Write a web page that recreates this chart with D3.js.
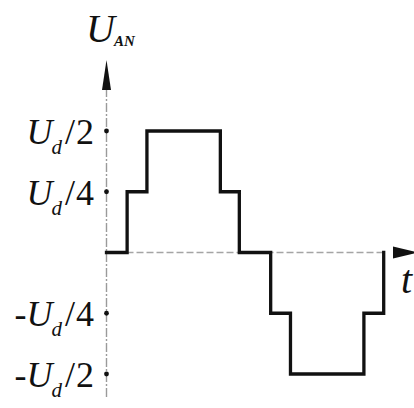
<!DOCTYPE html>
<html>
<head>
<meta charset="utf-8">
<script src="https://cdn.jsdelivr.net/npm/d3@7"></script>
<style>
  html, body { margin: 0; padding: 0; background: #fff; }
  svg { display: block; }
  text { font-family: "Liberation Serif", "Times New Roman", serif; fill: #111; }
</style>
</head>
<body>
<script>
// Step switching instants (electrical degrees) and output level (fraction of Ud)
const switchAngles = [0, 25, 49, 138, 161, 199, 223, 312, 336];
const levels       = [0, 0.25, 0.5, 0.25, 0, -0.25, -0.5, -0.25, 0];

// Y-axis tick values and their labels: [sign, fraction digit]
const tickValues = [0.5, 0.25, -0.25, -0.5];
const tickSigns  = ["", "", "-", "-"];
const tickDenoms = ["2", "4", "4", "2"];

const W = 414, H = 408;
const svg = d3.select("body").append("svg").attr("width", W).attr("height", H);

const x0 = 106.5;
const x = d3.scaleLinear().domain([0, 360]).range([x0, x0 + 297]);
const y = d3.scaleLinear().domain([-0.5, 0.5]).range([374, 131]);

// vertical axis (light dashed line) with arrow head
svg.append("line")
  .attr("x1", x0).attr("x2", x0)
  .attr("y1", 88).attr("y2", 397)
  .attr("stroke", "#9a9a9a").attr("stroke-width", 1.4)
  .attr("stroke-dasharray", "9,2,2,2");
svg.append("path")
  .attr("d", `M${x0},60 L${x0 + 4.5},90 L${x0 - 4.5},90 Z`)
  .attr("fill", "#111");

// horizontal time axis (dashed) with arrow head
svg.append("line")
  .attr("x1", x0).attr("x2", 386)
  .attr("y1", y(0)).attr("y2", y(0))
  .attr("stroke", "#a5a5a5").attr("stroke-width", 1.3)
  .attr("stroke-dasharray", "7,3");
svg.append("path")
  .attr("d", `M393,${y(0) - 6} L418,${y(0)} L393,${y(0) + 6} Z`)
  .attr("fill", "#111");

// tick dots
svg.selectAll("circle.tick")
  .data(tickValues)
  .join("circle")
  .attr("class", "tick")
  .attr("cx", x0).attr("cy", d => y(d))
  .attr("r", 2.4)
  .attr("fill", "#111");

// tick labels: ±U_d/n
const labels = svg.selectAll("text.tl")
  .data(tickValues)
  .join("text")
  .attr("class", "tl")
  .attr("x", 94)
  .attr("y", d => y(d) + 13)
  .attr("text-anchor", "end")
  .attr("font-size", 36);
labels.each(function(d, i) {
  const t = d3.select(this);
  if (tickSigns[i]) t.append("tspan").text(tickSigns[i]).attr("dx", 0);
  t.append("tspan").text("U").attr("font-style", "italic");
  t.append("tspan").text("d").attr("font-style", "italic")
    .attr("font-size", 21).attr("dx", -1).attr("dy", 10);
  t.append("tspan").text("/").attr("dx", 3).attr("dy", -10);
  t.append("tspan").text(tickDenoms[i]).attr("dx", 1);
});

// axis titles
const yTitle = svg.append("text").attr("x", 86).attr("y", 42).attr("font-size", 40);
yTitle.append("tspan").text("U").attr("font-style", "italic");
yTitle.append("tspan").text("AN").attr("font-style", "italic")
  .attr("font-size", 15).attr("font-weight", "bold").attr("dx", -1).attr("dy", 4);

svg.append("text")
  .attr("x", 401).attr("y", 293)
  .attr("font-size", 40).attr("font-style", "italic")
  .text("t");

// staircase phase voltage
const wave = switchAngles.map((a, i) => [a, levels[i]]);
svg.append("path")
  .datum(wave)
  .attr("d", d3.line()
    .x(d => x(d[0]))
    .y(d => y(d[1]))
    .curve(d3.curveStepAfter))
  .attr("fill", "none")
  .attr("stroke", "#111")
  .attr("stroke-width", 3.3)
  .attr("stroke-linejoin", "miter")
  .attr("stroke-linecap", "square");
</script>
</body>
</html>
